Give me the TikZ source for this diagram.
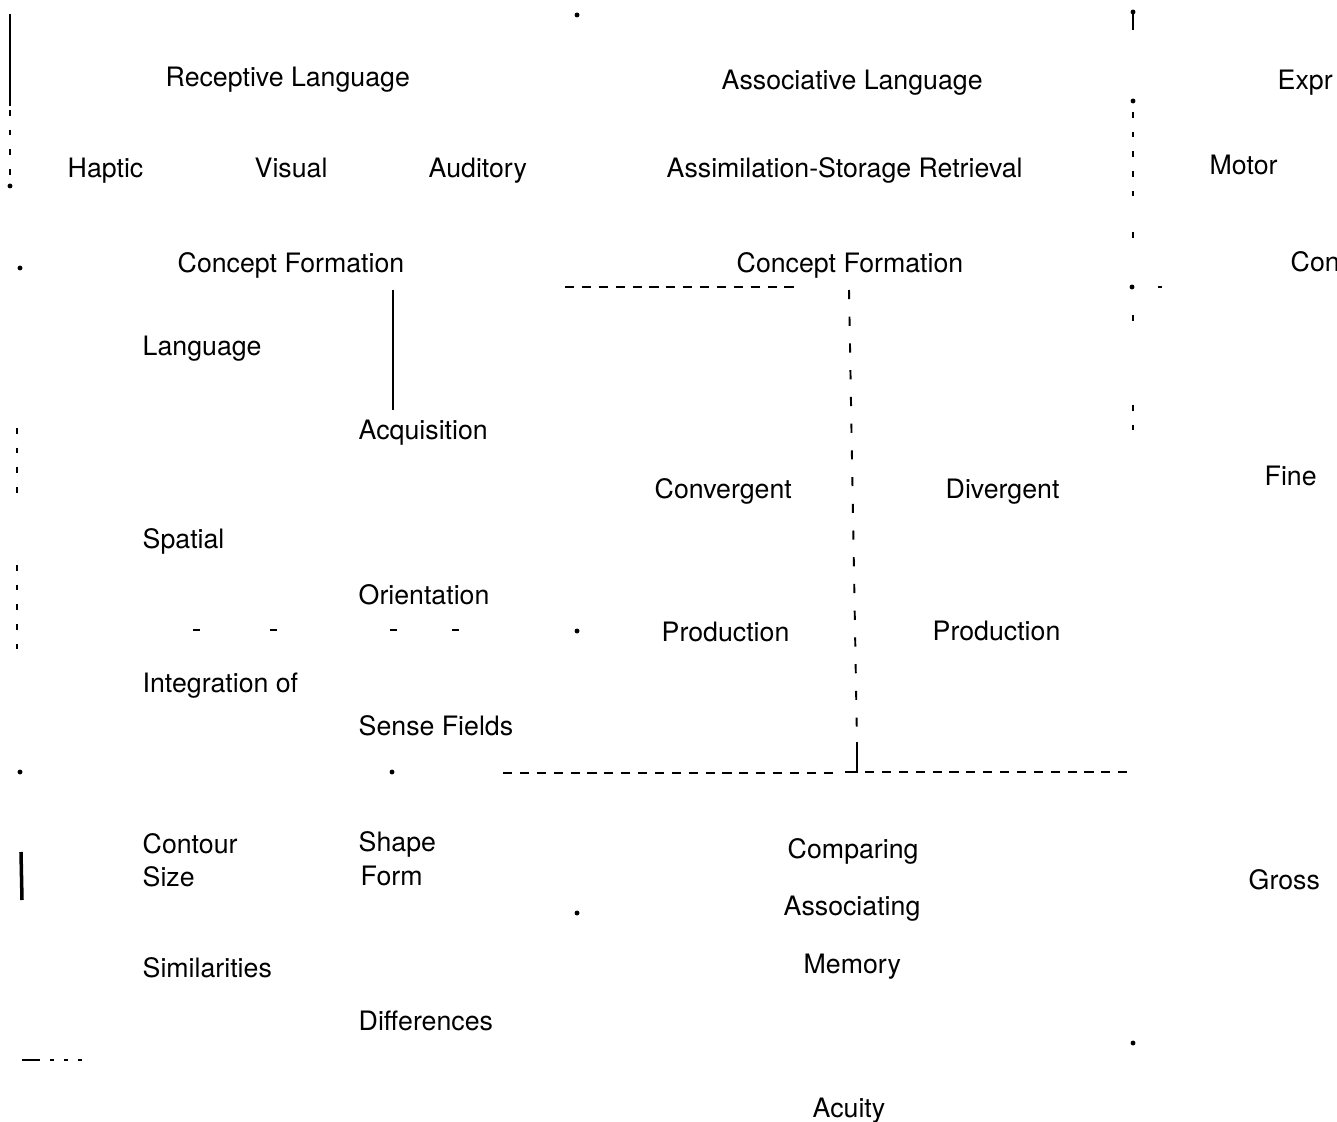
\documentclass[tikz,border=0pt]{standalone}
\usepackage{fontspec}
\setmainfont{TeX Gyre Heros}
\usepackage{tikz}

\begin{document}
\begin{tikzpicture}[x=0.01cm, y=-0.01cm,
  lbl/.style={anchor=west, inner sep=0pt, text height=0.72em, text depth=0pt,
    yshift=0.9pt, font=\fontsize{7.6}{9}\selectfont},
  rule/.style={line width=0.5pt},
  dashrule/.style={line width=0.5pt, dash pattern={on 2.6pt off 2.2pt}},
  tickrule/.style={line width=0.45pt, dash pattern={on 1.6pt off 4pt}},
  midrule/.style={line width=0.55pt, dash pattern={on 2.6pt off 5pt}},
  speck/.style={circle, fill, inner sep=0pt, minimum size=1.4pt}]
  \useasboundingbox (0,0) rectangle (1337,1122);

  % top row
  \node[lbl] (recep) at (165,77) {Receptive Language};
  \node[lbl] (assoc) at (721,80) {Associative Language};
  \node[lbl] (expr) at (1277,80) {Expr};
  \node[lbl] (haptic) at (67,168) {Haptic};
  \node[lbl] (visual) at (254,168) {Visual};
  \node[lbl] (audit) at (428,168) {Auditory};
  \node[lbl] (assim) at (666,168) {Assimilation-Storage Retrieval};
  \node[lbl] (motor) at (1209,165) {Motor};
  \node[lbl] (conceptL) at (177,263) {Concept Formation};
  \node[lbl] (conceptM) at (736,263) {Concept Formation};
  \node[lbl] (conR) at (1290,262) {Con};

  % left column
  \node[lbl] (lang) at (142,346) {Language};
  \node[lbl] (acqu) at (358,430) {Acquisition};
  \node[lbl] (spat) at (142,539) {Spatial};
  \node[lbl] (orie) at (358,595) {Orientation};
  \node[lbl] (integ) at (142,683) {Integration of};
  \node[lbl] (sense) at (358,726) {Sense Fields};
  \node[lbl] (cont) at (142,844) {Contour};
  \node[lbl] (size) at (142,877) {Size};
  \node[lbl] (shape) at (358,842) {Shape};
  \node[lbl] (form) at (360,876) {Form};
  \node[lbl] (simil) at (142,968) {Similarities};
  \node[lbl] (diffs) at (358,1021) {Differences};

  % middle and right
  \node[lbl] (conv) at (654,489) {Convergent};
  \node[lbl] (diverg) at (945,489) {Divergent};
  \node[lbl] (prodC) at (661,632) {Production};
  \node[lbl] (prodD) at (932,631) {Production};
  \node[lbl] (fine) at (1264,476) {Fine};
  \node[lbl] (compar) at (787,849) {Comparing};
  \node[lbl] (associng) at (783,906) {Associating};
  \node[lbl] (memo) at (803,964) {Memory};
  \node[lbl] (gross) at (1248,880) {Gross};
  \node[lbl] (acuity) at (812,1108) {Acuity};

  % left margin rules
  \draw[rule] (10,14) -- (10,106);
  \draw[tickrule] (10,110) -- (10,178);
  \node[speck] at (10,186) {};
  \node[speck] at (20,268) {};
  \draw[tickrule] (17,428) -- (17,500);
  \draw[tickrule] (17,565) -- (17,662);
  \node[speck] at (20,772) {};
  \draw[line width=1pt] (21,852) -- (22,900);
  \draw[line width=0.8pt, dash pattern={on 5pt off 3pt on 1pt off 3pt on 1pt off 3pt on 1pt off 2pt on 1pt}] (22,1060) -- (85,1060);

  % stray specks
  \node[speck] at (577,15) {};
  \node[speck] at (577,631) {};
  \node[speck] at (392,772) {};
  \node[speck] at (577,913) {};
  \node[speck] at (1133,1043) {};

  % link under the left concept formation
  \draw[rule] (393,290) -- (393,410);

  % dashed frame round convergent / divergent
  \draw[dashrule] (565,287) -- (800,287);
  \draw[midrule] (849,290) -- (857,742);
  \draw[rule] (857,742) -- (857,772) -- (845,772);
  \draw[dashrule] (503,773) -- (838,773);
  \draw[dashrule] (865,772) -- (1135,772);

  % short dashes across the orientation row
  \foreach \xa in {193,270,390,452}
    \draw[rule] (\xa,630) -- ++(7,0);

  % right margin rule
  \node[speck] at (1133,12) {};
  \draw[rule] (1133,14) -- (1133,30);
  \node[speck] at (1133,101) {};
  \draw[tickrule] (1133,112) -- (1133,205);
  \draw[tickrule] (1133,232) -- (1133,250);
  \node[speck] at (1132,287) {};
  \draw[rule] (1158,287) -- (1162,287);
  \draw[tickrule] (1133,315) -- (1133,325);
  \draw[tickrule] (1133,405) -- (1133,442);
\end{tikzpicture}
\end{document}
